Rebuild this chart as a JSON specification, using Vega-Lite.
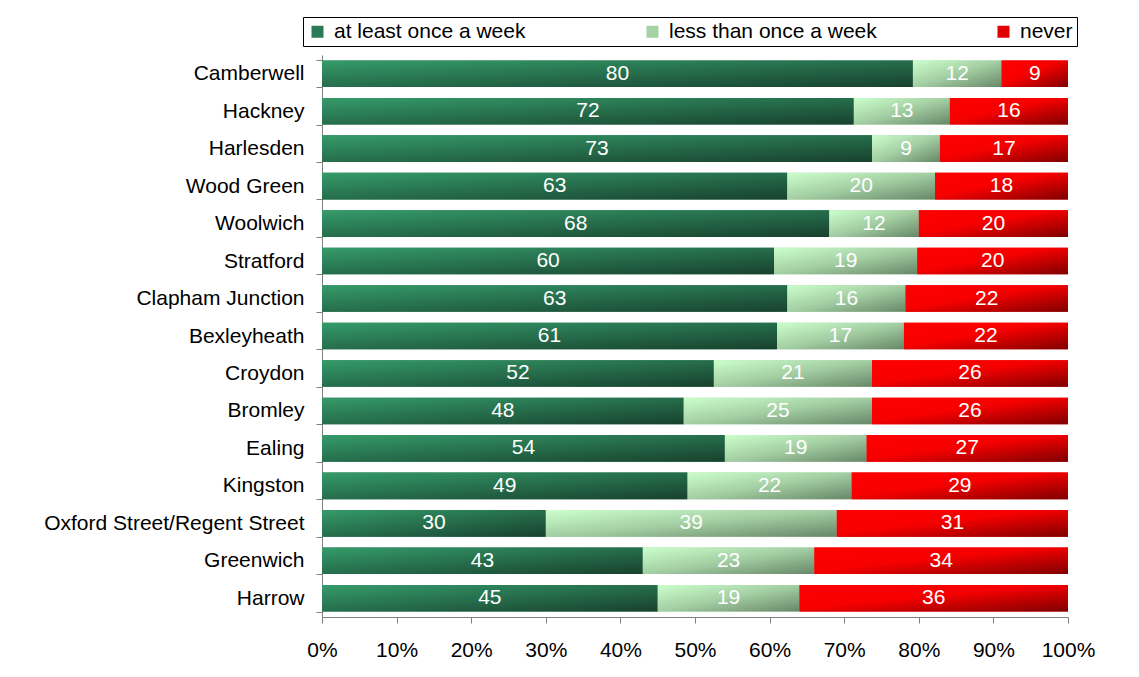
{
  "$schema": "https://vega.github.io/schema/vega-lite/v6.json",
  "autosize": {"type": "none"},
  "padding": {"left": 322, "top": 55, "right": 71, "bottom": 60},
  "width": 746,
  "height": 562,
  "background": "white",
  "config": {
    "font": "Liberation Sans",
    "view": {"stroke": null},
    "axis": {"labelFont": "Liberation Sans", "labelFontSize": 21, "labelColor": "#000000", "domainColor": "#808080", "tickColor": "#808080", "grid": false, "title": null}
  },
  "data": {
    "values": [
      {"area": "Camberwell", "freq": "at least once a week", "pct": 80},
      {"area": "Camberwell", "freq": "less than once a week", "pct": 12},
      {"area": "Camberwell", "freq": "never", "pct": 9},
      {"area": "Hackney", "freq": "at least once a week", "pct": 72},
      {"area": "Hackney", "freq": "less than once a week", "pct": 13},
      {"area": "Hackney", "freq": "never", "pct": 16},
      {"area": "Harlesden", "freq": "at least once a week", "pct": 73},
      {"area": "Harlesden", "freq": "less than once a week", "pct": 9},
      {"area": "Harlesden", "freq": "never", "pct": 17},
      {"area": "Wood Green", "freq": "at least once a week", "pct": 63},
      {"area": "Wood Green", "freq": "less than once a week", "pct": 20},
      {"area": "Wood Green", "freq": "never", "pct": 18},
      {"area": "Woolwich", "freq": "at least once a week", "pct": 68},
      {"area": "Woolwich", "freq": "less than once a week", "pct": 12},
      {"area": "Woolwich", "freq": "never", "pct": 20},
      {"area": "Stratford", "freq": "at least once a week", "pct": 60},
      {"area": "Stratford", "freq": "less than once a week", "pct": 19},
      {"area": "Stratford", "freq": "never", "pct": 20},
      {"area": "Clapham Junction", "freq": "at least once a week", "pct": 63},
      {"area": "Clapham Junction", "freq": "less than once a week", "pct": 16},
      {"area": "Clapham Junction", "freq": "never", "pct": 22},
      {"area": "Bexleyheath", "freq": "at least once a week", "pct": 61},
      {"area": "Bexleyheath", "freq": "less than once a week", "pct": 17},
      {"area": "Bexleyheath", "freq": "never", "pct": 22},
      {"area": "Croydon", "freq": "at least once a week", "pct": 52},
      {"area": "Croydon", "freq": "less than once a week", "pct": 21},
      {"area": "Croydon", "freq": "never", "pct": 26},
      {"area": "Bromley", "freq": "at least once a week", "pct": 48},
      {"area": "Bromley", "freq": "less than once a week", "pct": 25},
      {"area": "Bromley", "freq": "never", "pct": 26},
      {"area": "Ealing", "freq": "at least once a week", "pct": 54},
      {"area": "Ealing", "freq": "less than once a week", "pct": 19},
      {"area": "Ealing", "freq": "never", "pct": 27},
      {"area": "Kingston", "freq": "at least once a week", "pct": 49},
      {"area": "Kingston", "freq": "less than once a week", "pct": 22},
      {"area": "Kingston", "freq": "never", "pct": 29},
      {"area": "Oxford Street/Regent Street", "freq": "at least once a week", "pct": 30},
      {"area": "Oxford Street/Regent Street", "freq": "less than once a week", "pct": 39},
      {"area": "Oxford Street/Regent Street", "freq": "never", "pct": 31},
      {"area": "Greenwich", "freq": "at least once a week", "pct": 43},
      {"area": "Greenwich", "freq": "less than once a week", "pct": 23},
      {"area": "Greenwich", "freq": "never", "pct": 34},
      {"area": "Harrow", "freq": "at least once a week", "pct": 45},
      {"area": "Harrow", "freq": "less than once a week", "pct": 19},
      {"area": "Harrow", "freq": "never", "pct": 36}
    ]
  },
  "transform": [
    {"stack": "pct", "groupby": ["area"], "offset": "normalize", "sort": [{"field": "freq", "order": "ascending"}], "as": ["v0", "v1"]},
    {"calculate": "(datum.v0 + datum.v1) / 2", "as": "mid"}
  ],
  "encoding": {
    "y": {
      "field": "area",
      "type": "nominal",
      "sort": ["Camberwell", "Hackney", "Harlesden", "Wood Green", "Woolwich", "Stratford", "Clapham Junction", "Bexleyheath", "Croydon", "Bromley", "Ealing", "Kingston", "Oxford Street/Regent Street", "Greenwich", "Harrow"],
      "scale": {"paddingInner": 0.29, "paddingOuter": 0.145},
      "axis": {"tickBand": "extent", "tickSize": 6, "labelPadding": 12, "labelLimit": 400}
    },
    "x": {
      "field": "v0",
      "type": "quantitative",
      "scale": {"domain": [0, 1], "nice": false},
      "axis": {"format": ".0%", "values": [0, 0.1, 0.2, 0.3, 0.4, 0.5, 0.6, 0.7, 0.8, 0.9, 1], "tickSize": 6, "labelPadding": 16, "labelFlush": false}
    },
    "x2": {"field": "v1"}
  },
  "layer": [
    {
      "mark": {"type": "bar"},
      "encoding": {
        "color": {
          "field": "freq",
          "type": "nominal",
          "scale": {
            "domain": ["at least once a week", "less than once a week", "never"],
            "range": ["#2a7a55", "#a6d2a6", "#e00000"]
          },
          "legend": {
            "title": null,
            "orient": "none",
            "legendX": -19,
            "legendY": -38,
            "direction": "horizontal",
            "strokeColor": "#000000",
            "fillColor": "#ffffff",
            "padding": 4,
            "columnPadding": 116,
            "symbolType": "square",
            "symbolSize": 144,
            "symbolStrokeWidth": 0,
            "symbolOpacity": 1,
            "labelFontSize": 21,
            "labelFont": "Liberation Sans",
            "labelColor": "#000000",
            "labelLimit": 400,
            "labelOffset": 6
          }
        }
      }
    },
    {
      "transform": [{"filter": "datum.freq === 'at least once a week'"}],
      "mark": {"type": "bar", "fill": {"gradient": "linear", "x1": 0, "y1": 0, "x2": 1, "y2": 1, "stops": [{"offset": 0, "color": "#359b6a"}, {"offset": 0.5, "color": "#266e4c"}, {"offset": 1, "color": "#18412d"}]}}
    },
    {
      "transform": [{"filter": "datum.freq === 'less than once a week'"}],
      "mark": {"type": "bar", "fill": {"gradient": "linear", "x1": 0, "y1": 0, "x2": 1, "y2": 1, "stops": [{"offset": 0, "color": "#ccffcc"}, {"offset": 0.5, "color": "#a3cea3"}, {"offset": 1, "color": "#678767"}]}}
    },
    {
      "transform": [{"filter": "datum.freq === 'never'"}],
      "mark": {"type": "bar", "fill": {"gradient": "linear", "x1": 0, "y1": 0, "x2": 1, "y2": 1, "stops": [{"offset": 0, "color": "#ff0000"}, {"offset": 0.45, "color": "#f60000"}, {"offset": 1, "color": "#7f0000"}]}}
    },
    {
      "mark": {"type": "text", "color": "#ffffff", "fontSize": 21, "font": "Liberation Sans", "baseline": "middle", "align": "center"},
      "encoding": {
        "x": {"field": "mid", "type": "quantitative"},
        "x2": null,
        "text": {"field": "pct", "type": "quantitative"}
      }
    }
  ]
}
